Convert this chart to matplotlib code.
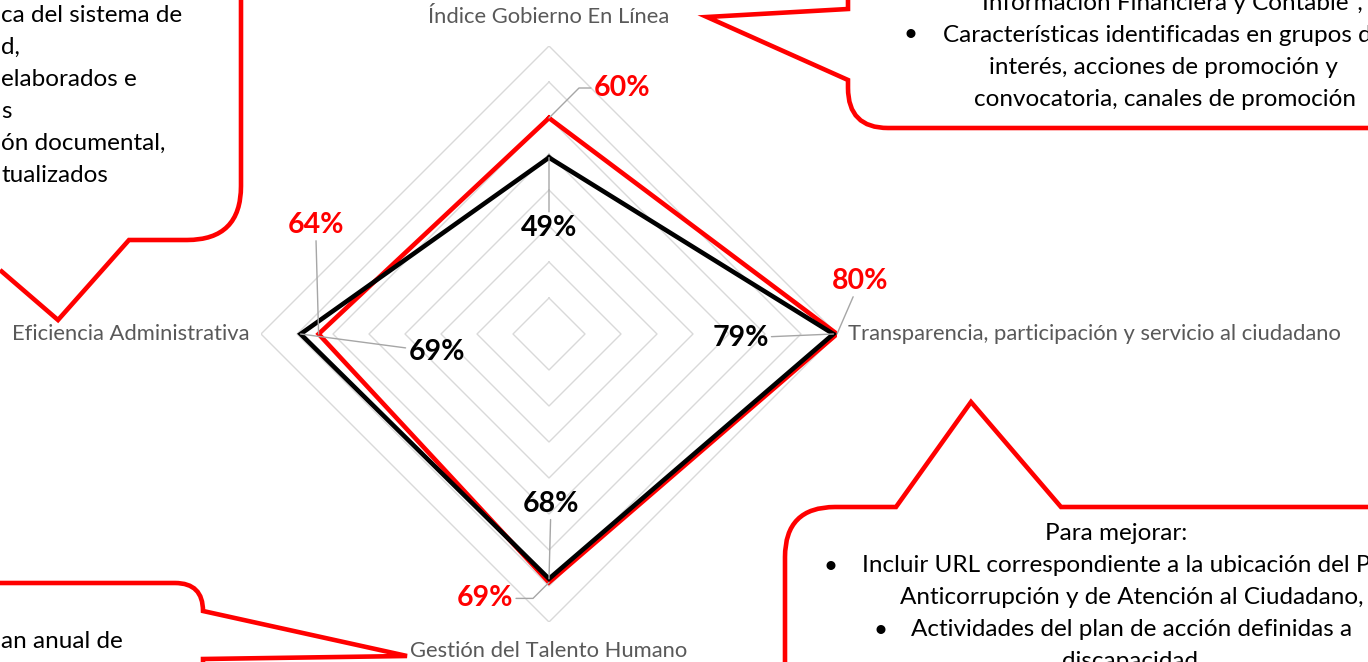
import numpy as np
import matplotlib.pyplot as plt
from matplotlib.path import Path
from matplotlib.patches import PathPatch

# data
categories = ['Índice Gobierno En Línea',
              'Transparencia, participación y servicio al ciudadano',
              'Gestión del Talento Humano',
              'Eficiencia Administrativa']
red_vals = [0.60, 0.80, 0.69, 0.64]
black_vals = [0.49, 0.79, 0.68, 0.69]
rings = [0.1, 0.2, 0.3, 0.4, 0.5, 0.6, 0.7, 0.8]

# callout texts (cut off by the slide edge in the original)
tl_lines = ['ca del sistema de', 'd,', 'elaborados e', 's', 'ón documental,', 'tualizados']
tr_lines = ['Información Financiera y Contable”,',
            'Características identificadas en grupos de',
            'interés, acciones de promoción y',
            'convocatoria, canales de promoción']
br_lines = ['Para mejorar:',
            'Incluir URL correspondiente a la ubicación del Plan',
            'Anticorrupción y de Atención al Ciudadano,',
            'Actividades del plan de acción definidas a',
            'discapacidad']
bl_lines = ['an anual de']

W, H = 1368, 662
FONT = 'Lato'
RED = '#ff0000'
GRID = '#d9d9d9'
LEAD = '#a6a6a6'

fig = plt.figure(figsize=(W / 100, H / 100), dpi=100)

# radar, centre (549, 334) px, radius 288 px
cx, cy, R = 549, 334, 288
ax = fig.add_axes([(cx - R) / W, (H - cy - R) / H, 2 * R / W, 2 * R / H],
                  projection='polar')
ax.set_theta_offset(np.pi / 2)
ax.set_theta_direction(-1)
ax.set_ylim(0, 0.8)
ax.axis('off')

ang = np.arange(len(categories)) * 2 * np.pi / len(categories)
ang_c = np.append(ang, ang[0])

for r in rings:
    ax.plot(ang_c, [r] * len(ang_c), color=GRID, lw=1, zorder=1)

ax.plot(ang_c, red_vals + red_vals[:1], color=RED, lw=3.3, zorder=3,
        solid_joinstyle='miter')
ax.plot(ang_c, black_vals + black_vals[:1], color='black', lw=3.3, zorder=4,
        solid_joinstyle='miter')

# category labels
cat_off = [(0, 29), (11, 0), (0, -29), (-12, 0)]
cat_ha = ['center', 'left', 'center', 'right']
for a, lab, off, ha in zip(ang, categories, cat_off, cat_ha):
    ax.annotate(lab, xy=(a, 0.8), xytext=off, textcoords='offset pixels',
                ha=ha, va='center', color='#595959', fontsize=15.8,
                family=FONT, annotation_clip=False)

# data labels with leader lines
red_off = [(73, 30), (23, 53), (-64, -16), (-3, 109)]
red_conn = ['angle,angleA=0,angleB=45,rad=0', 'arc3',
            'angle,angleA=0,angleB=45,rad=0', 'arc3']
black_off = [(0, -70), (-93, -4), (2, 75), (136, -18)]
for vals, offs, col, conns in [(red_vals, red_off, RED, red_conn),
                               (black_vals, black_off, 'black', ['arc3'] * 4)]:
    for a, v, off, cs in zip(ang, vals, offs, conns):
        ax.annotate(f'{v:.0%}', xy=(a, v), xytext=off, textcoords='offset pixels',
                    ha='center', va='center', color=col, fontsize=20.5,
                    fontweight='bold', family=FONT, zorder=6,
                    annotation_clip=False,
                    arrowprops=dict(arrowstyle='-', color=LEAD, lw=1,
                                    shrinkA=0, shrinkB=0, connectionstyle=cs))

# overlay for callout bubbles, pixel coords with y down
ov = fig.add_axes([0, 0, 1, 1], zorder=-1)
ov.set_xlim(0, W)
ov.set_ylim(H, 0)
ov.axis('off')

M, L, C = Path.MOVETO, Path.LINETO, Path.CURVE3
bubbles = [
    ([(0, 270), (58, 320), (129, 240), (187, 240), (241, 240), (241, 186), (241, -5)],
     [M, L, L, L, C, C, L]),
    ([(848, -5), (848, 9), (707, 17), (848, 80), (848, 88), (848, 128), (888, 128), (W + 5, 128)],
     [M, L, L, L, L, C, C, L]),
    ([(-5, 583), (175, 583), (203, 583), (203, 611), (407, 656), (203, 659), (203, H + 5)],
     [M, L, C, C, L, L, L]),
    ([(785, H + 5), (785, 557), (785, 507), (835, 507), (896, 507), (971, 402), (1061, 507), (W + 5, 507)],
     [M, L, C, C, L, L, L, L]),
]
for verts, codes in bubbles:
    ov.add_patch(PathPatch(Path(verts, codes), fill=False, edgecolor=RED, lw=3.3,
                           joinstyle='miter', capstyle='butt'))

txt = dict(fontsize=17.5, family=FONT, color='black', va='center')

for i, s in enumerate(tl_lines):
    ov.text(1, 16 + 31.8 * i, s, ha='left', **txt)

ov.text(1172, 3, tr_lines[0], ha='center', **txt)
ov.text(910, 35, '•', ha='center', **txt)
ov.text(943, 35, tr_lines[1], ha='left', **txt)
ov.text(1163, 68, tr_lines[2], ha='center', **txt)
ov.text(1165, 100, tr_lines[3], ha='center', **txt)

ov.text(1116, 534, br_lines[0], ha='center', **txt)
ov.text(830, 566, '•', ha='center', **txt)
ov.text(862, 566, br_lines[1], ha='left', **txt)
ov.text(900, 598, br_lines[2], ha='left', **txt)
ov.text(880, 630, '•', ha='center', **txt)
ov.text(911, 630, br_lines[3], ha='left', **txt)
ov.text(1130, 661, br_lines[4], ha='center', **txt)

ov.text(1, 642, bl_lines[0], ha='left', **txt)

fig.savefig('out.png', dpi=100)
